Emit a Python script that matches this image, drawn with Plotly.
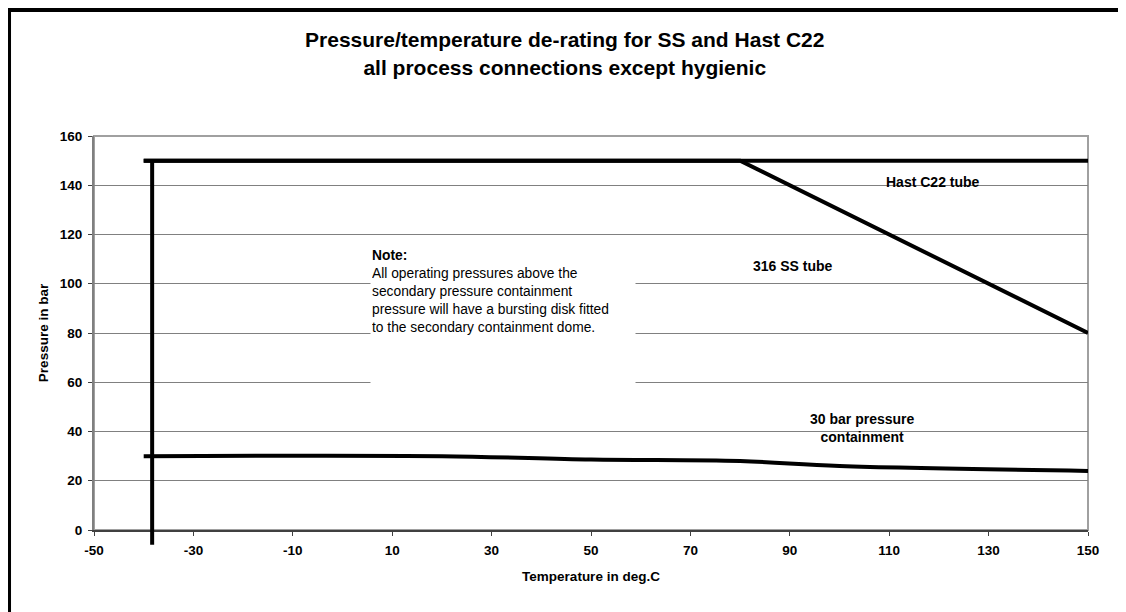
"""Pressure/temperature de-rating chart (SS and Hast C22)"""

import plotly.graph_objects as go

# Data
hast_temp = [-40, 150]
hast_pressure = [150, 150]

ss_temp = [-40, 80, 150]
ss_pressure = [150, 150, 80]

contain_temp = [-40, 20, 50, 80, 100, 150]
contain_pressure = [30, 30, 28.6, 28, 26, 24]

# vertical limit line at the minimum temperature (runs a bit below the axis)
limit_temp = [-38.3, -38.3]
limit_pressure = [-6, 150]

x_ticks = [-50, -30, -10, 10, 30, 50, 70, 90, 110, 130, 150]
y_ticks = [0, 20, 40, 60, 80, 100, 120, 140, 160]
x_range = [-50, 150]
y_range = [0, 160]

FONT = "Liberation Sans, Arial, sans-serif"
LINE = dict(color="black", width=4)


def bold(size):
    return dict(family=FONT, size=size, color="black", weight="bold")


fig = go.Figure()

fig.add_trace(go.Scatter(x=hast_temp, y=hast_pressure, mode="lines",
                         line=LINE, name="Hast C22 tube"))
fig.add_trace(go.Scatter(x=ss_temp, y=ss_pressure, mode="lines",
                         line=LINE, name="316 SS tube"))
fig.add_trace(go.Scatter(x=contain_temp, y=contain_pressure, mode="lines",
                         line=dict(color="black", width=4, shape="spline", smoothing=1),
                         name="30 bar pressure containment"))

# shape on "y domain" so that the part below 0 is not clipped
def y_dom(v):
    return (v - y_range[0]) / (y_range[1] - y_range[0])


fig.add_shape(type="line", xref="x", yref="y domain",
              x0=limit_temp[0], x1=limit_temp[1],
              y0=y_dom(limit_pressure[0]), y1=y_dom(limit_pressure[1]),
              line=dict(color="black", width=4))

# outer frame
fig.add_shape(type="rect", xref="paper", yref="paper",
              x0=-0.0860, x1=1.0362, y0=-0.25, y1=1.3211,
              line=dict(color="black", width=5), fillcolor="rgba(0,0,0,0)")

fig.add_annotation(x=118.8, y=141.3, text="Hast C22 tube", showarrow=False, font=bold(14))
fig.add_annotation(x=90.6, y=107.2, text="316 SS tube", showarrow=False, font=bold(14))
fig.add_annotation(x=104.5, y=41.6, text="30 bar pressure<br>containment",
                   showarrow=False, font=bold(14))

note = ("<b>Note:</b><br>All operating pressures above the<br>"
        "secondary pressure containment<br>"
        "pressure will have a bursting disk fitted<br>"
        "to the secondary containment dome.")
fig.add_annotation(x=5.5, y=115.3, xanchor="left", yanchor="top", text=note,
                   showarrow=False, align="left", valign="top",
                   width=262, height=152, borderpad=1, bgcolor="white",
                   font=dict(family=FONT, size=13.8, color="black"))

fig.update_layout(
    title=dict(text="Pressure/temperature de-rating for SS and Hast C22<br>"
                    "all process connections except hygienic",
               x=0.498, xanchor="center", y=0.935, yanchor="top",
               font=bold(21)),
    width=1118, height=604,
    margin=dict(l=86, r=38, t=128, b=82),
    paper_bgcolor="white", plot_bgcolor="white",
    showlegend=False,
    font=dict(family=FONT, color="black"),
)
fig.update_xaxes(
    range=x_range, tickvals=x_ticks, ticktext=[str(v) for v in x_ticks],
    ticks="outside", ticklen=4, tickcolor="#404040", ticklabelstandoff=3,
    showgrid=False, zeroline=False,
    showline=True, linecolor="#404040", linewidth=2,
    tickfont=bold(13.5),
    title=dict(text="Temperature in deg.C", standoff=14, font=bold(13.5)),
)
fig.update_yaxes(
    range=y_range, tickvals=y_ticks, ticktext=[str(v) for v in y_ticks],
    ticks="outside", ticklen=4, tickcolor="#404040", ticklabelstandoff=3,
    showgrid=True, gridcolor="#808080", gridwidth=1, zeroline=False,
    showline=True, linecolor="#808080", linewidth=2,
    tickfont=bold(13.5),
    title=dict(text="Pressure in bar", standoff=8, font=bold(13.5)),
)
# light grey plot border on top and right
fig.add_shape(type="rect", xref="paper", yref="paper", x0=0, x1=1, y0=0, y1=1,
              line=dict(color="#a0a0a0", width=2), layer="below")

fig.write_html("out.html")
